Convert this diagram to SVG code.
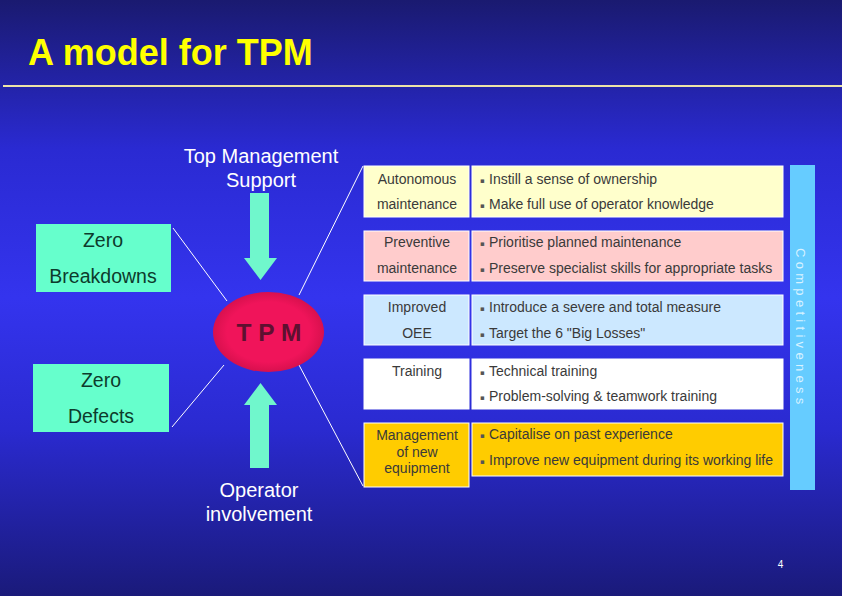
<svg xmlns="http://www.w3.org/2000/svg" width="842" height="596" viewBox="0 0 842 596">
<defs>
<linearGradient id="bg" x1="0" y1="0" x2="0" y2="1">
<stop offset="0" stop-color="#1a1a70"/>
<stop offset="0.25" stop-color="#2a2ad2"/>
<stop offset="0.5" stop-color="#3434ee"/>
<stop offset="0.72" stop-color="#2a2ad0"/>
<stop offset="1" stop-color="#1a1a7a"/>
</linearGradient>
<radialGradient id="ell" cx="0.5" cy="0.5" r="0.5">
<stop offset="0.75" stop-color="#f0145a"/>
<stop offset="1" stop-color="#d8104e"/>
</radialGradient>
<style>
.ttl{font-family:"Liberation Sans",Arial,sans-serif;font-weight:bold;font-size:36px;fill:#ffff00}
.lbl{font-family:"Liberation Sans",Arial,sans-serif;font-size:20px;fill:#ffffff;text-anchor:middle}
.zb{font-family:"Liberation Sans",Arial,sans-serif;font-size:19.5px;fill:#0d3b2c;text-anchor:middle}
.box{fill:#66ffcc}
.arr{fill:#70f7cc}
.cell{stroke:#ffffff;stroke-width:1}
.ct{font-family:"Liberation Sans",Arial,sans-serif;font-size:14px;fill:#3a3a3a;text-anchor:middle}
.rt{font-family:"Liberation Sans",Arial,sans-serif;font-size:14px;fill:#3a3a3a}
.bul{font-family:"DejaVu Sans",sans-serif;font-size:7px;fill:#555555}
.con{stroke:#ffffff;stroke-width:1;fill:none}
</style>
</defs>
<rect x="0" y="0" width="842" height="596" fill="url(#bg)"/>
<g id="title">
<text class="ttl" x="28" y="65">A model for TPM</text>
<line x1="3" y1="86" x2="842" y2="86" stroke="#ece4a8" stroke-width="2"/>
</g>
<g id="connectors">
<line class="con" x1="173" y1="228" x2="227" y2="301"/>
<line class="con" x1="299" y1="295" x2="363" y2="166"/>
<line class="con" x1="172" y1="427" x2="224" y2="365"/>
<line class="con" x1="299" y1="365" x2="363" y2="486"/>
</g>
<g id="top-management">
<text class="lbl" x="261" y="163">Top Management</text>
<text class="lbl" x="261" y="187">Support</text>
<polygon class="arr" points="250,193 269,193 269,258 277,258 260.5,280 244,258 250,258"/>
</g>
<g id="operator-involvement">
<polygon class="arr" points="260.5,383 277,405 269,405 269,468 250,468 250,405 244,405"/>
<text class="lbl" x="259" y="497">Operator</text>
<text class="lbl" x="259" y="521">involvement</text>
</g>
<g id="zero-breakdowns">
<rect class="box" x="36" y="224" width="135" height="68"/>
<text class="zb" x="103" y="247">Zero</text>
<text class="zb" x="103" y="283">Breakdowns</text>
</g>
<g id="zero-defects">
<rect class="box" x="33" y="364" width="136" height="68"/>
<text class="zb" x="101" y="387">Zero</text>
<text class="zb" x="101" y="423">Defects</text>
</g>
<g id="tpm">
<ellipse cx="268.5" cy="332" rx="55.5" ry="40" fill="url(#ell)"/>
<text x="269" y="341" font-family="'Liberation Sans',Arial,sans-serif" font-weight="bold" font-size="24.5" fill="#5e1030" text-anchor="middle">T P M</text>
</g>
<g id="row-autonomous">
<rect class="cell" x="364" y="166" width="105" height="51" fill="#ffffcc"/>
<rect class="cell" x="472" y="166" width="311" height="51" fill="#ffffcc"/>
<text class="ct" x="417" y="184">Autonomous</text>
<text class="ct" x="417" y="209">maintenance</text>
<text class="rt" y="184"><tspan class="bul" x="480" dy="-1.5">▪</tspan><tspan x="489" dy="1.5">Instill a sense of ownership</tspan></text>
<text class="rt" y="209"><tspan class="bul" x="480" dy="-1.5">▪</tspan><tspan x="489" dy="1.5">Make full use of operator knowledge</tspan></text>
</g>
<g id="row-preventive">
<rect class="cell" x="364" y="231" width="105" height="50" fill="#ffcccc"/>
<rect class="cell" x="472" y="231" width="311" height="50" fill="#ffcccc"/>
<text class="ct" x="417" y="247">Preventive</text>
<text class="ct" x="417" y="273">maintenance</text>
<text class="rt" y="247"><tspan class="bul" x="480" dy="-1.5">▪</tspan><tspan x="489" dy="1.5">Prioritise planned maintenance</tspan></text>
<text class="rt" y="273"><tspan class="bul" x="480" dy="-1.5">▪</tspan><tspan x="489" dy="1.5">Preserve specialist skills for appropriate tasks</tspan></text>
</g>
<g id="row-oee">
<rect class="cell" x="364" y="295" width="105" height="50" fill="#cce8ff"/>
<rect class="cell" x="472" y="295" width="311" height="50" fill="#cce8ff"/>
<text class="ct" x="417" y="312">Improved</text>
<text class="ct" x="417" y="338">OEE</text>
<text class="rt" y="312"><tspan class="bul" x="480" dy="-1.5">▪</tspan><tspan x="489" dy="1.5">Introduce a severe and total measure</tspan></text>
<text class="rt" y="338"><tspan class="bul" x="480" dy="-1.5">▪</tspan><tspan x="489" dy="1.5">Target the 6 "Big Losses"</tspan></text>
</g>
<g id="row-training">
<rect class="cell" x="364" y="359" width="105" height="50" fill="#ffffff"/>
<rect class="cell" x="472" y="359" width="311" height="50" fill="#ffffff"/>
<text class="ct" x="417" y="376">Training</text>
<text class="rt" y="376"><tspan class="bul" x="480" dy="-1.5">▪</tspan><tspan x="489" dy="1.5">Technical training</tspan></text>
<text class="rt" y="401"><tspan class="bul" x="480" dy="-1.5">▪</tspan><tspan x="489" dy="1.5">Problem-solving &amp; teamwork training</tspan></text>
</g>
<g id="row-new-equipment">
<rect class="cell" x="364" y="423" width="105" height="64" fill="#ffcc00"/>
<rect class="cell" x="472" y="423" width="311" height="53" fill="#ffcc00"/>
<text class="ct" x="417" y="440">Management</text>
<text class="ct" x="417" y="457">of new</text>
<text class="ct" x="417" y="473">equipment</text>
<text class="rt" y="439"><tspan class="bul" x="480" dy="-1.5">▪</tspan><tspan x="489" dy="1.5">Capitalise on past experience</tspan></text>
<text class="rt" y="465"><tspan class="bul" x="480" dy="-1.5">▪</tspan><tspan x="489" dy="1.5">Improve new equipment during its working life</tspan></text>
</g>
<g id="competitiveness">
<rect x="790" y="165" width="25" height="325" fill="#66ccff"/>
<text transform="translate(796,248) rotate(90)" x="0" y="0" font-family="'Liberation Sans',Arial,sans-serif" font-size="13" letter-spacing="4.3" fill="#d8f2ff">Competitiveness</text>
</g>
<text x="780.5" y="568" font-family="'Liberation Sans',Arial,sans-serif" font-size="10" fill="#ffffff" text-anchor="middle">4</text>
</svg>
